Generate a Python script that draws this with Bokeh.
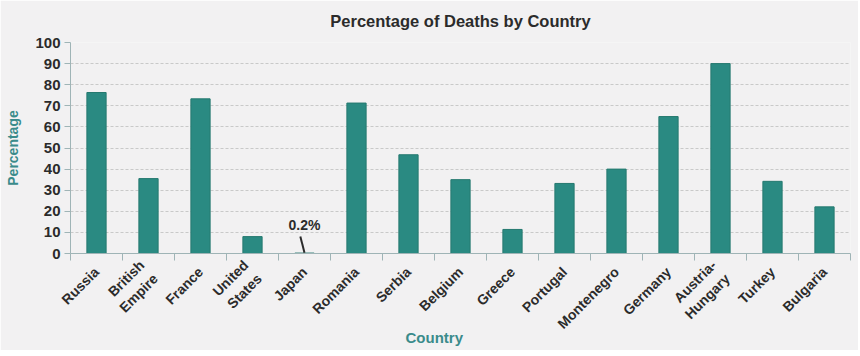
from math import pi
from bokeh.plotting import figure
from bokeh.models import FixedTicker, ColumnDataSource, Range1d, Label, Title
from bokeh.embed import file_html
from bokeh.resources import INLINE

countries = ["Russia", "British\nEmpire", "France", "United\nStates", "Japan", "Romania",
             "Serbia", "Belgium", "Greece", "Portugal", "Montenegro", "Germany",
             "Austria-\nHungary", "Turkey", "Bulgaria"]
percent = [76.3, 35.5, 73.3, 8.0, 0.2, 71.3, 46.8, 35.0, 11.4, 33.2, 40.0, 64.9, 90.0, 34.2, 22.1]
y_ticks = list(range(0, 101, 10))

n = len(countries)
centers = [i + 0.5 for i in range(n)]
src = ColumnDataSource(dict(x=centers, top=percent, name=countries))

FONT = "Liberation Sans"
TEAL = "#3a8b8b"
DARK = "#2b2b2b"
BG = "#f2f1f2"
AXC = "#9fb4b6"

p = figure(frame_width=780, frame_height=211, output_backend="svg", toolbar_location=None,
           x_range=Range1d(0, n), y_range=Range1d(0, 100),
           title="Percentage of Deaths by Country",
           min_border_left=70, min_border_right=8, min_border_top=42, min_border_bottom=97)
p.background_fill_color = BG
p.border_fill_color = BG
p.outline_line_color = None

p.title.align = "center"
p.title.text_font = FONT
p.title.text_font_size = "16.5px"
p.title.text_font_style = "bold"
p.title.text_color = DARK
p.title.vertical_align = "top"
p.title.standoff = 22

p.vbar(x="x", top="top", width=0.37, bottom=0, source=src,
       fill_color="#2a8a82", line_color="#25796f", line_width=1)

# x axis
xa = p.xaxis[0]
xa.ticker = FixedTicker(ticks=centers, minor_ticks=list(range(n + 1)))
xa.major_label_overrides = {c: name for c, name in zip(centers, countries)}
xa.major_tick_line_color = None
xa.minor_tick_in = 0
xa.minor_tick_out = 7
xa.minor_tick_line_color = AXC
xa.axis_line_color = AXC
xa.major_label_orientation = pi / 4
xa.major_label_text_font = FONT
xa.major_label_text_font_size = "14px"
xa.major_label_text_font_style = "bold"
xa.major_label_text_color = DARK
xa.major_label_standoff = 9

# x axis title, slightly left of the frame centre as in the original
xt = Title(text="Country", align="left", offset=335, vertical_align="top",
           text_font=FONT, text_font_size="15px",
           text_font_style="bold", text_color=TEAL, standoff=-24)
p.add_layout(xt, "below")

# y axis
ya = p.yaxis[0]
ya.ticker = FixedTicker(ticks=y_ticks)
ya.minor_tick_line_color = None
ya.major_tick_in = 0
ya.major_tick_out = 6
ya.major_tick_line_color = AXC
ya.axis_line_color = AXC
ya.major_label_text_font = FONT
ya.major_label_text_font_size = "15px"
ya.major_label_text_font_style = "bold"
ya.major_label_text_color = DARK
ya.major_label_standoff = 4
ya.axis_label = "Percentage"
ya.axis_label_text_font = FONT
ya.axis_label_text_font_size = "14px"
ya.axis_label_text_font_style = "bold"
ya.axis_label_text_color = TEAL
ya.axis_label_standoff = 11

p.xgrid.grid_line_color = None
p.ygrid.grid_line_color = "#c9c9c9"
p.ygrid.grid_line_dash = "3 2"

# annotation for Japan
ji = 4
p.segment(x0=[centers[ji] - 0.08], y0=[8.0], x1=[centers[ji]], y1=[0.4],
          line_color=DARK, line_width=2)
p.add_layout(Label(x=centers[ji], y=9.5, text="%.1f%%" % percent[ji], text_align="center",
                   text_font=FONT, text_font_size="14px", text_font_style="bold",
                   text_color=DARK))

open("out.html", "w").write(file_html(p, INLINE))
